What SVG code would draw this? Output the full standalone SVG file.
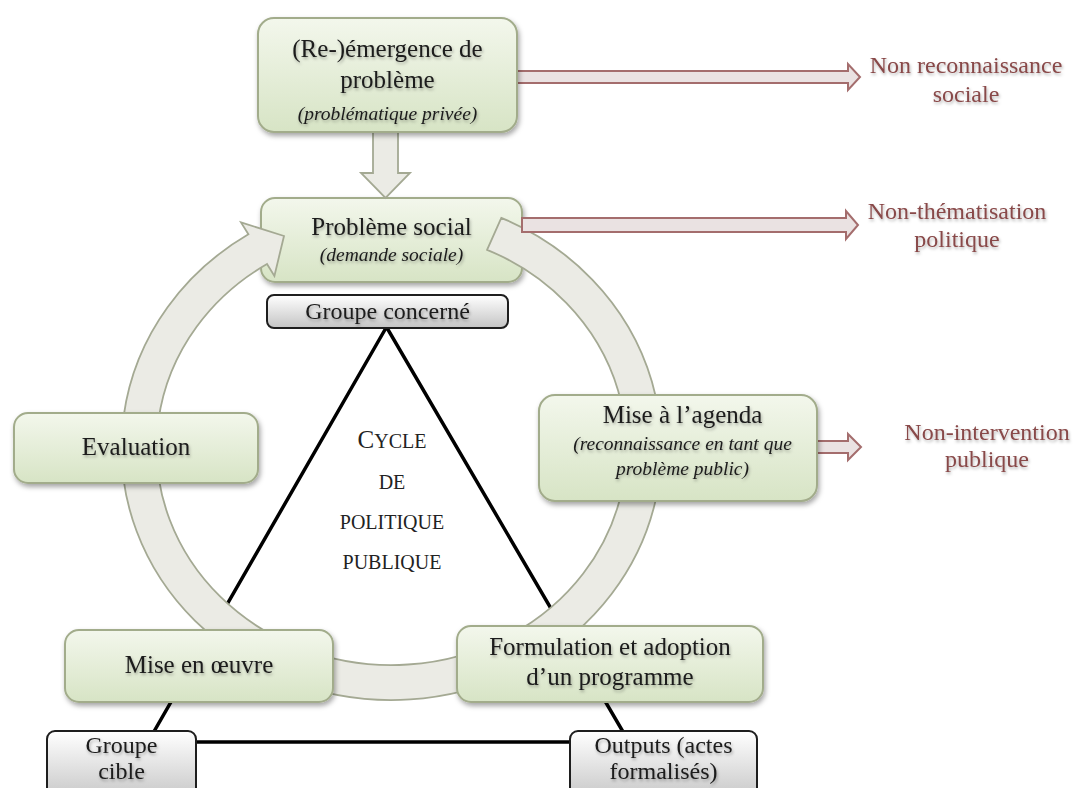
<svg xmlns="http://www.w3.org/2000/svg" width="1075" height="788" viewBox="0 0 1075 788">
  <defs>
    <linearGradient id="greenFill" x1="0" y1="0" x2="0" y2="1">
      <stop offset="0" stop-color="#f3f7ec"/>
      <stop offset="1" stop-color="#d7e4c5"/>
    </linearGradient>
    <linearGradient id="grayFill" x1="0" y1="0" x2="0" y2="1">
      <stop offset="0" stop-color="#ffffff"/>
      <stop offset="1" stop-color="#c4c4c4"/>
    </linearGradient>
    <filter id="boxShadow" x="-10%" y="-10%" width="125%" height="135%">
      <feDropShadow dx="1.5" dy="3" stdDeviation="2.5" flood-color="#000" flood-opacity="0.35"/>
    </filter>
    <filter id="textShadow" x="-5%" y="-20%" width="110%" height="160%">
      <feDropShadow dx="1" dy="2" stdDeviation="1.4" flood-color="#000" flood-opacity="0.3"/>
    </filter>
    <style>
      .stage { fill: url(#greenFill); stroke: #a2ac8b; stroke-width: 2; filter: url(#boxShadow); }
      .group { fill: url(#grayFill); stroke: #1e1e1e; stroke-width: 2; }
      .lbl { font-family: "Liberation Serif", "Times New Roman", serif; fill: #1b1b1b; text-anchor: middle; filter: url(#textShadow); }
      .big { font-size: 25px; }
      .mid { font-size: 24px; }
      .ital { font-size: 19.5px; font-style: italic; }
      .out { font-family: "Liberation Serif", "Times New Roman", serif; fill: #884848; font-size: 24px; text-anchor: middle; filter: url(#textShadow); }
      .title { font-family: "Liberation Serif", "Times New Roman", serif; fill: #222; text-anchor: middle; font-size: 20px; }
      .cycle { fill: #ebebe5; stroke: #a4a993; stroke-width: 1.8; stroke-linejoin: miter; }
      .exit { fill: #eae2e2; stroke: #a46d6d; stroke-width: 2; }
      .tri { fill: none; stroke: #000; stroke-width: 3.5; }
    </style>
  </defs>

  <rect width="1075" height="788" fill="#ffffff"/>

  <!-- Problème social (drawn first so the cycle arrow ends can sit on its edges) -->
  <g id="node-probleme-social">
    <rect class="stage" x="261" y="198" width="261" height="84" rx="14"/>
    <text class="lbl big" x="391.5" y="235">Problème social</text>
    <text class="lbl ital" x="391.5" y="261">(demande sociale)</text>
  </g>

  <g id="connectors">
    <!-- triangle linking the three groups -->
    <polygon class="tri" points="386.5,327 148,742 629,742"/>
    <!-- circular cycle arrow -->
    <path class="cycle" d="M501.3,217.8 A270,252 0 1 1 248.4,234.3 L241,222.4 L284,236 L274.4,275.9 L267,264 A235,217 0 1 0 487.1,249.8 Z"/>
    <!-- emergence to social problem -->
    <path class="cycle" d="M373,132 H398 V173 H410 L385.5,198 L361,173 H373 Z"/>
    <!-- exits -->
    <path class="exit" d="M517,71 H848 V64 L860,77 L848,90 V83 H517 Z"/>
    <path class="exit" d="M522,218 H846 V211 L858,225 L846,239 V232 H522 Z"/>
    <path class="exit" d="M817,441 H848 V434 L861,447 L848,460 V453 H817 Z"/>
  </g>

  <g id="node-emergence">
    <rect class="stage" x="258" y="18" width="259" height="114" rx="16"/>
    <text class="lbl big" x="387.5" y="57">(Re-)émergence de</text>
    <text class="lbl big" x="387.5" y="88">problème</text>
    <text class="lbl ital" x="387.5" y="120">(problématique privée)</text>
  </g>

  <g id="node-groupe-concerne">
    <rect class="group" x="267" y="295" width="241" height="33" rx="7"/>
    <text class="lbl mid" x="387.5" y="319">Groupe concerné</text>
  </g>

  <g id="node-agenda">
    <rect class="stage" x="539" y="395" width="278" height="106" rx="16"/>
    <text class="lbl big" x="682.5" y="423">Mise à l’agenda</text>
    <text class="lbl ital" x="682.5" y="450">(reconnaissance en tant que</text>
    <text class="lbl ital" x="682.5" y="475">problème public)</text>
  </g>

  <g id="node-evaluation">
    <rect class="stage" x="14" y="413" width="244" height="70" rx="14"/>
    <text class="lbl big" x="136" y="455">Evaluation</text>
  </g>

  <g id="node-mise-en-oeuvre">
    <rect class="stage" x="65" y="630" width="268" height="72" rx="14"/>
    <text class="lbl big" x="199" y="673">Mise en œuvre</text>
  </g>

  <g id="node-formulation">
    <rect class="stage" x="457" y="626" width="306" height="76" rx="14"/>
    <text class="lbl big" x="610" y="655">Formulation et adoption</text>
    <text class="lbl big" x="610" y="685">d’un programme</text>
  </g>

  <g id="node-groupe-cible">
    <rect class="group" x="47" y="731" width="149" height="72" rx="8"/>
    <text class="lbl mid" x="121.5" y="753">Groupe</text>
    <text class="lbl mid" x="121.5" y="779">cible</text>
  </g>

  <g id="node-outputs">
    <rect class="group" x="570" y="731" width="187" height="72" rx="8"/>
    <text class="lbl mid" x="663.5" y="753">Outputs (actes</text>
    <text class="lbl mid" x="663.5" y="779">formalisés)</text>
  </g>

  <g id="node-non-reconnaissance">
    <text class="out" x="966" y="73">Non reconnaissance</text>
    <text class="out" x="966" y="102">sociale</text>
  </g>

  <g id="node-non-thematisation">
    <text class="out" x="957" y="219">Non-thématisation</text>
    <text class="out" x="957" y="247">politique</text>
  </g>

  <g id="node-non-intervention">
    <text class="out" x="987" y="440">Non-intervention</text>
    <text class="out" x="987" y="467">publique</text>
  </g>

  <g id="cycle-title">
    <text class="title" x="392" y="448"><tspan font-size="25">C</tspan>YCLE</text>
    <text class="title" x="392" y="489">DE</text>
    <text class="title" x="392" y="529">POLITIQUE</text>
    <text class="title" x="392" y="569">PUBLIQUE</text>
  </g>
</svg>
